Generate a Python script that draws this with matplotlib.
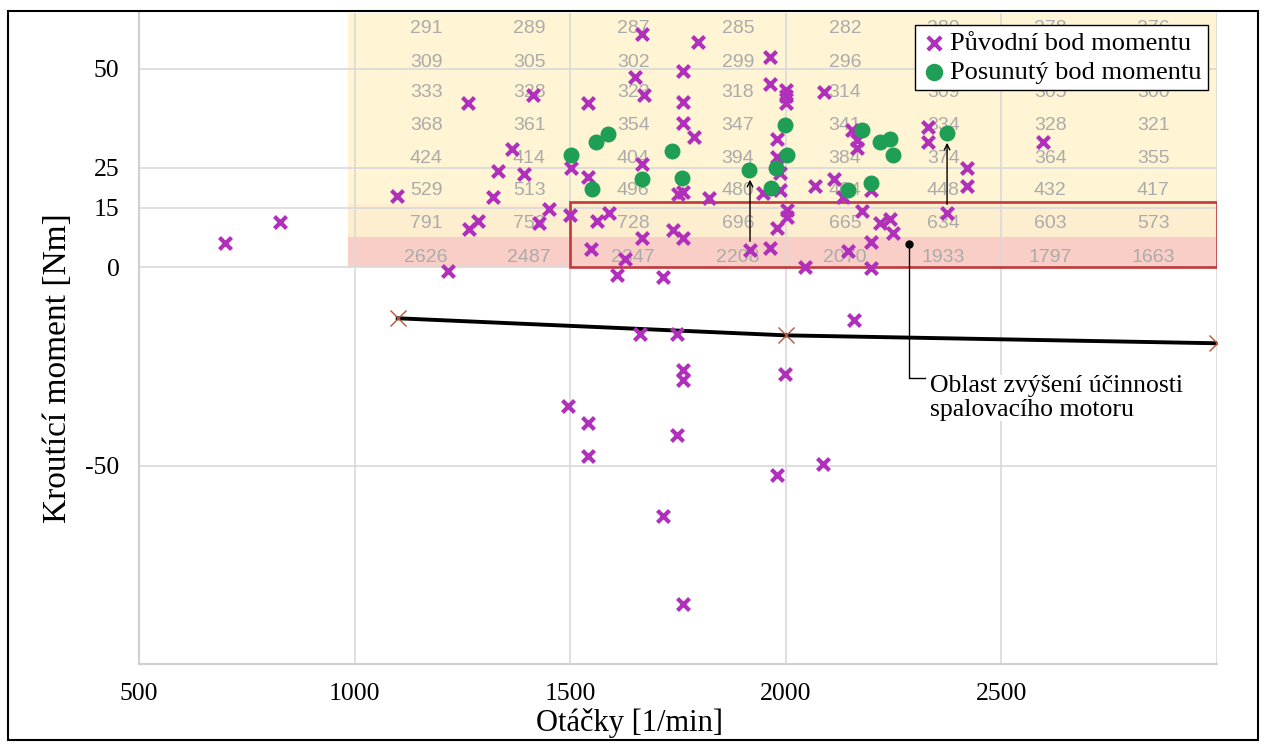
import matplotlib.pyplot as plt
from matplotlib.patches import Rectangle

plt.rcParams['font.family'] = ['Liberation Serif', 'DejaVu Serif']
plt.rcParams['axes.unicode_minus'] = False

# original torque points (purple crosses)
orig_rpm = [700, 827, 1098, 1217, 1263, 1265, 1286, 1321, 1333, 1365, 1393, 1414, 1428, 1451,
            1502, 1500, 1541, 1541, 1562, 1590, 1548, 1627, 1608, 1650, 1666, 1671, 1666, 1666,
            1715, 1738, 1750, 1762, 1762, 1762, 1762, 1762, 1787, 1796, 1822, 1917, 1947, 1963,
            1963, 1963, 1980, 1980, 1980, 1986, 1986, 2000, 2000, 2000, 2003, 2003, 2045, 2068,
            2089, 2112, 2133, 2144, 2154, 2165, 2165, 2177, 2198, 2198, 2198, 2219, 2242, 2249,
            2330, 2330, 2374, 2420, 2420, 2596,
            1662, 1748, 1762, 1762, 1998, 2158, 1495, 1541, 1748, 1541, 1980, 2086, 1715, 1762]
orig_torque = [6.1, 11.4, 17.9, -1.0, 41.4, 9.6, 11.6, 17.7, 24.2, 29.8, 23.5, 43.4, 11.1, 14.6,
               25.0, 13.0, 41.4, 22.7, 11.6, 13.6, 4.5, 2.0, -2.0, 48.0, 58.8, 43.4, 26.0, 7.3,
               -2.5, 9.3, 18.4, 18.9, 49.5, 41.7, 36.4, 7.3, 32.7, 56.7, 17.4, 4.3, 18.7, 52.8,
               46.2, 4.8, 32.3, 27.8, 9.8, 23.7, 19.4, 44.7, 43.0, 41.3, 14.4, 12.6, 0.1, 20.5,
               44.2, 22.2, 17.7, 4.0, 34.6, 32.1, 30.1, 14.1, 19.4, 6.3, -0.3, 11.1, 12.1, 8.6,
               35.4, 31.6, 13.6, 25.0, 20.5, 31.6,
               -16.9, -16.9, -26.0, -28.5, -27.0, -13.4, -35.1, -39.4, -42.2, -47.7, -52.5, -49.7,
               -62.6, -84.8]

# shifted torque points (green dots)
shift_rpm = [1502, 1551, 1560, 1588, 1666, 1736, 1759, 1915, 1966, 1977, 1998, 2003,
             2144, 2177, 2198, 2219, 2242, 2249, 2374]
shift_torque = [28.3, 19.7, 31.6, 33.6, 22.2, 29.3, 22.5, 24.5, 19.9, 25.0, 35.9, 28.3,
                19.4, 34.6, 21.2, 31.6, 32.3, 28.3, 33.8]

# black limit line
limit_rpm = [1100, 2000, 3000]
limit_torque = [-12.9, -17.2, -19.2]

# shift arrows
arrow_rpm = [1917, 2374]
arrow_from = [4.3, 13.6]
arrow_to = [24.5, 33.8]

# efficiency map numbers in the background (None = hidden behind the legend)
map_cols = [1166, 1405, 1646, 1889, 2137, 2365, 2613, 2852]
map_rows = [60.1, 51.5, 43.9, 35.6, 27.3, 19.2, 11.1, 2.5]
map_values = [
    [291, 289, 287, 285, 282, 280, 278, 276],
    [309, 305, 302, 299, 296, None, None, None],
    [333, 328, 323, 318, 314, 309, 305, 300],
    [368, 361, 354, 347, 341, 334, 328, 321],
    [424, 414, 404, 394, 384, 374, 364, 355],
    [529, 513, 496, 480, 464, 448, 432, 417],
    [791, 759, 728, 696, 665, 634, 603, 573],
    [2626, 2487, 2347, 2208, 2070, 1933, 1797, 1663],
]

fig = plt.figure(figsize=(12.66, 7.44), dpi=100)
ax = fig.add_axes([0.1098, 0.1075, 0.8515, 0.875])
ax.set_xlim(500, 3000)
ax.set_ylim(-100, 64)

# background map
ax.add_patch(Rectangle((985, 16), 2015, 48, facecolor='#fff5d4', edgecolor='none', zorder=0.5))
ax.add_patch(Rectangle((985, 7.5), 2015, 8.5, facecolor='#feeed0', edgecolor='none', zorder=0.5))
ax.add_patch(Rectangle((985, 0), 2015, 7.5, facecolor='#f9cec7', edgecolor='none', zorder=0.5))
for r, row in zip(map_rows, map_values):
    for c, v in zip(map_cols, row):
        if v is None:
            continue
        t = ax.text(c, r, str(v), ha='center', va='center', fontsize=14, color='#ababab',
                    family='Liberation Sans', zorder=0.8, clip_on=True)
        t.set_stretch('condensed')

# grid
ax.set_xticks([500, 1000, 1500, 2000, 2500])
ax.set_yticks([-50, 0, 15, 25, 50])
ax.grid(True, color='#d9d9d9', lw=1.2)
ax.axvline(3000, color='#d9d9d9', lw=1.2)
ax.tick_params(length=0, labelsize=18.5, pad=14)
for s in ['top', 'right']:
    ax.spines[s].set_visible(False)
for s in ['left', 'bottom']:
    ax.spines[s].set_color('#d0d0d0')
    ax.spines[s].set_linewidth(1.5)

# efficiency area box
ax.add_patch(Rectangle((1500, 0), 1500, 16.3, fill=False, edgecolor='#c0393b', lw=1.9, zorder=2))

ax.plot(limit_rpm, limit_torque, color='black', lw=2.8, zorder=3)
ax.plot(limit_rpm, limit_torque, ls='none', marker='x', ms=11, mew=1, color='#b5553a', zorder=4)

ax.scatter(orig_rpm, orig_torque, marker='x', s=75, linewidths=3, color='#b030bb', zorder=5,
           label='Původní bod momentu')
ax.scatter(shift_rpm, shift_torque, marker='o', s=110, color='#1f9e55', zorder=6,
           label='Posunutý bod momentu')

for x, y0, y1 in zip(arrow_rpm, arrow_from, arrow_to):
    ax.annotate('', xy=(x, y1 - 1.8), xytext=(x, y0 + 1.5),
                arrowprops=dict(arrowstyle='->', color='black', lw=1), zorder=4)

# leader line to the annotation text
ax.plot([2286, 2286, 2322], [5.8, -28, -28], color='black', lw=1, zorder=4)
ax.plot([2286], [5.8], marker='o', ms=5, color='black', zorder=4)
ax.text(2334, -27.2, 'Oblast zvýšení účinnosti\nspalovacího motoru', fontsize=18.5,
        ha='left', va='top', linespacing=1.1, zorder=4,
        bbox=dict(facecolor='white', edgecolor='none', pad=0))

leg = ax.legend(loc='upper right', bbox_to_anchor=(0.992, 0.982), fontsize=19, frameon=True,
                fancybox=False, edgecolor='black', framealpha=1, borderpad=0.25,
                handletextpad=0.1, handlelength=1.0, labelspacing=0.2, borderaxespad=0,
                markerscale=1.1)
leg.get_frame().set_linewidth(1)

ax.set_xlabel('Otáčky [1/min]', fontsize=22)
ax.set_ylabel('Kroutící moment [Nm]', fontsize=24)
ax.xaxis.set_label_coords(0.455, -0.068)
ax.yaxis.set_label_coords(-0.061, 0.455)

fig.patches.append(Rectangle((0.006, 0.005), 0.988, 0.98, transform=fig.transFigure,
                             fill=False, edgecolor='black', lw=1.5))

fig.savefig('out.png', dpi=100)
